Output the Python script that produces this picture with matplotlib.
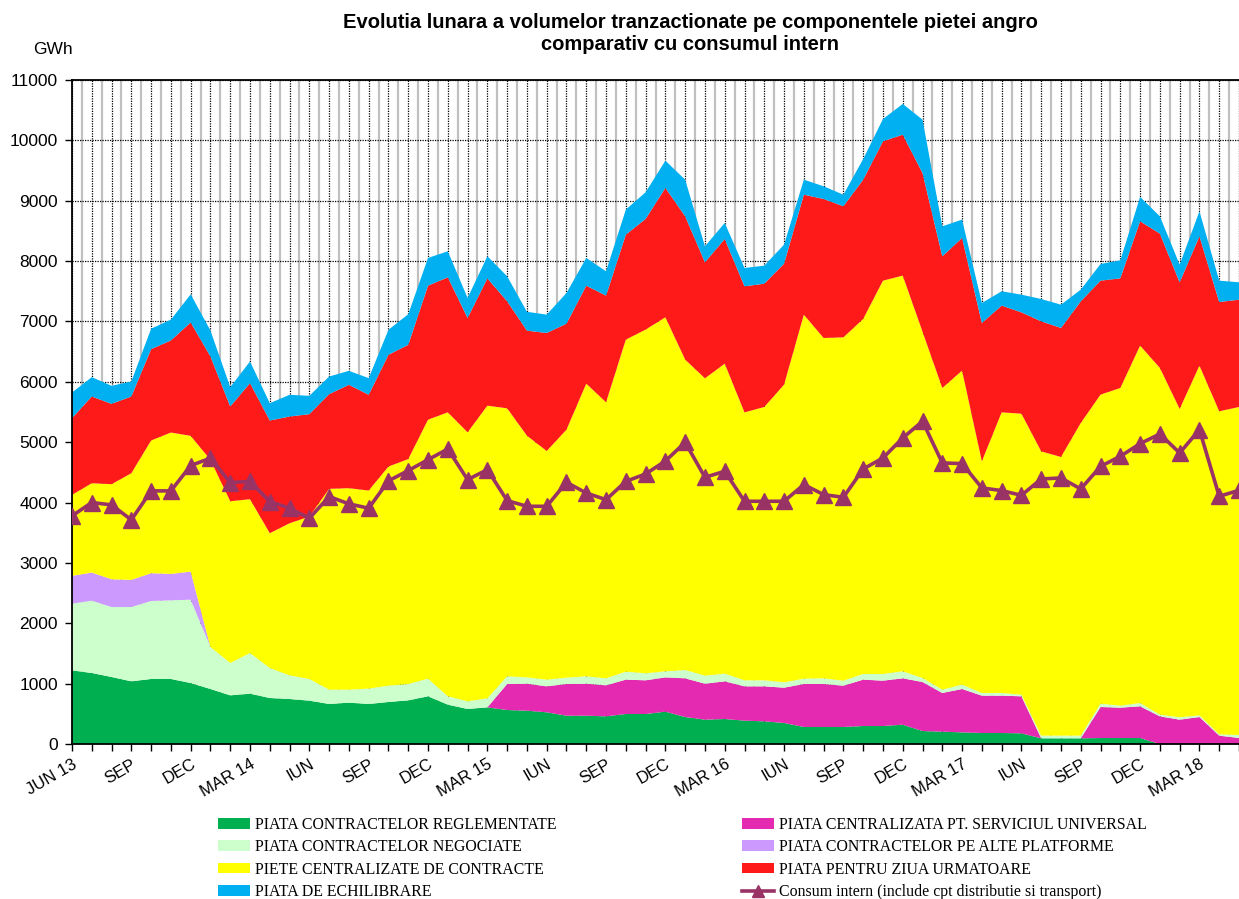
import numpy as np
import matplotlib.pyplot as plt
from matplotlib.patches import Patch
from matplotlib.lines import Line2D

# monthly traded volumes per market component, GWh, JUN 2013 .. MAY 2018
reglementate = [1220, 1176, 1110, 1038, 1077, 1077, 1010, 911, 806, 834,
                762, 745, 718, 663, 685, 663, 696, 723, 790, 652,
                580, 607, 563, 552, 525, 469, 469, 458, 497, 497,
                536, 447, 403, 414, 387, 375, 348, 282, 282, 282,
                298, 298, 320, 215, 204, 193, 182, 182, 177, 94,
                94, 94, 99, 99, 99, 0, 0, 0, 0, 0]
serviciu_universal = [0, 0, 0, 0, 0, 0, 0, 0, 0, 0,
                      0, 0, 0, 0, 0, 0, 0, 0, 0, 0,
                      0, 0, 431, 447, 430, 525, 530, 514, 569, 558,
                      568, 641, 596, 624, 568, 580, 585, 712, 712, 684,
                      768, 751, 768, 812, 641, 718, 619, 619, 613, 0,
                      0, 0, 514, 503, 525, 458, 403, 447, 138, 100]
negociate = [1105, 1198, 1159, 1231, 1292, 1303, 1381, 696, 536, 673,
             497, 392, 359, 237, 215, 254, 270, 271, 292, 138,
             127, 149, 127, 105, 111, 105, 122, 116, 132, 116,
             100, 138, 133, 127, 100, 100, 89, 88, 94, 83,
             94, 111, 116, 66, 55, 72, 44, 44, 27, 44,
             44, 44, 55, 33, 55, 28, 39, 28, 22, 49]
alte_platforme = [460, 466, 460, 449, 460, 438, 465, 0, 0, 0] + [0] * 50
centralizate = [1342, 1480, 1575, 1768, 2199, 2342, 2249, 3100, 2680, 2548,
                2233, 2520, 2691, 3327, 3338, 3282, 3631, 3726, 4291, 4704,
                4456, 4849, 4440, 4004, 3788, 4109, 4849, 4573, 5501, 5694,
                5865, 5142, 4926, 5136, 4439, 4528, 4931, 6030, 5638, 5688,
                5881, 6516, 6555, 5737, 4998, 5202, 3838, 4649, 4655, 4710,
                4617, 5180, 5120, 5263, 5921, 5744, 5108, 5793, 5352, 5434]
pzu = [1271, 1437, 1331, 1271, 1513, 1525, 1878, 1713, 1569, 1923,
       1867, 1768, 1696, 1569, 1712, 1586, 1851, 1893, 2220, 2237,
       1894, 2109, 1773, 1740, 1955, 1755, 1623, 1767, 1739, 1833,
       2143, 2374, 1922, 2065, 2088, 2043, 2004, 1988, 2303, 2171,
       2308, 2308, 2335, 2629, 2181, 2198, 2292, 1768, 1679, 2154,
       2137, 2015, 1888, 1816, 2059, 2225, 2098, 2143, 1810, 1778]
echilibrare = [425, 320, 299, 249, 339, 345, 467, 430, 321, 359,
               287, 360, 304, 292, 232, 276, 414, 507, 459, 432,
               333, 366, 414, 312, 304, 509, 459, 403, 415, 442,
               452, 607, 265, 266, 304, 298, 316, 249, 210, 192,
               342, 370, 509, 884, 497, 304, 331, 238, 293, 370,
               386, 194, 276, 299, 403, 287, 293, 414, 354, 287]
consum = [3779, 4000, 3961, 3713, 4193, 4193, 4613, 4735, 4331, 4350,
          4017, 3906, 3740, 4099, 3978, 3906, 4359, 4530, 4710, 4887,
          4379, 4545, 4032, 3938, 3938, 4335, 4158, 4047, 4351, 4473,
          4688, 4997, 4418, 4518, 4021, 4021, 4021, 4297, 4131, 4087,
          4556, 4738, 5070, 5346, 4656, 4645, 4242, 4198, 4120, 4391,
          4407, 4225, 4600, 4766, 4976, 5136, 4821, 5208, 4103, 4203]

tick_labels = ["JUN 13", "SEP", "DEC", "MAR 14", "IUN", "SEP", "DEC",
               "MAR 15", "IUN", "SEP", "DEC", "MAR 16", "IUN", "SEP", "DEC",
               "MAR 17", "IUN", "SEP", "DEC", "MAR 18"]

names = ["PIATA CONTRACTELOR REGLEMENTATE",
         "PIATA CENTRALIZATA PT. SERVICIUL UNIVERSAL",
         "PIATA CONTRACTELOR NEGOCIATE",
         "PIATA CONTRACTELOR PE ALTE PLATFORME",
         "PIETE CENTRALIZATE DE CONTRACTE",
         "PIATA PENTRU ZIUA URMATOARE",
         "PIATA DE ECHILIBRARE"]
colors = ["#00B050", "#E32AB0", "#CCFFCC", "#CC99FF", "#FFFF00",
          "#FF1A1A", "#00B0F0"]
consum_name = "Consum intern (include cpt distributie si transport)"
consum_color = "#993366"

x = np.arange(len(consum))

fig = plt.figure(figsize=(12.39, 8.99), dpi=100)
ax = fig.add_axes([72 / 1239, 1 - 744 / 899, 1 - 72 / 1239, 664 / 899])

ax.stackplot(x, reglementate, serviciu_universal, negociate, alte_platforme,
             centralizate, pzu, echilibrare, colors=colors, linewidth=0,
             zorder=2)
ax.plot(x, consum, color=consum_color, lw=2.6, marker="^", ms=11,
        zorder=3)

ax.set_xlim(0, 58.54)
ax.set_ylim(0, 11000)
ax.set_yticks(np.arange(0, 11001, 1000))
ax.set_xticks(x)
ax.set_xticks(x[:-1] + 0.5, minor=True)
labels = [""] * len(x)
for i, lab in enumerate(tick_labels):
    labels[3 * i] = lab
ax.set_xticklabels(labels, rotation=30, ha="right", va="top",
                   rotation_mode="anchor", fontsize=12,
                   family="Liberation Sans")
ax.tick_params(axis="x", which="major", length=5, width=1, direction="out",
               pad=4)
ax.tick_params(axis="x", which="minor", length=0)
ax.tick_params(axis="y", length=5, width=1, direction="out", pad=5,
               labelsize=12.5)
for t in ax.get_yticklabels():
    t.set_family("Liberation Sans")

ax.set_axisbelow(True)
ax.grid(axis="y", which="major", color="black", ls=(0, (1, 1)), lw=0.9)
ax.grid(axis="x", which="major", color="black", ls=(0, (1, 1)), lw=0.9)
ax.grid(axis="x", which="minor", color="#C0C0C0", ls="-", lw=1.6)
ax.spines["right"].set_visible(False)
for s in ("left", "bottom", "top"):
    ax.spines[s].set_linewidth(1.3)

fig.text(690 / 1239, 1 - 22 / 899,
         "Evolutia lunara a volumelor tranzactionate pe componentele pietei angro",
         ha="center", va="center", fontsize=14.5, fontweight="bold",
         family="Liberation Sans")
fig.text(690 / 1239, 1 - 45 / 899, "comparativ cu consumul intern",
         ha="center", va="center", fontsize=14.5, fontweight="bold",
         family="Liberation Sans")
fig.text(52.5 / 1239, 1 - 49 / 899, "GWh", ha="center", va="center",
         fontsize=12.5, family="Liberation Sans")

patches = [Patch(facecolor=c, edgecolor="none", label=n)
           for c, n in zip(colors, names)]
consum_handle = Line2D([], [], color=consum_color, lw=2.6, marker="^",
                       ms=8, label=consum_name)
order = [0, 2, 4, 6, 1, 3, 5]
handles = [patches[i] for i in order] + [consum_handle]
fig.legend(handles=handles, loc="upper left",
           bbox_to_anchor=(218 / 1239, 1 - 817 / 899), ncol=2,
           frameon=False, borderpad=0, borderaxespad=0,
           handlelength=2.05, handleheight=0.65, handletextpad=0.3,
           labelspacing=0.4, columnspacing=11.7,
           prop={"family": "Liberation Serif", "size": 11.4})

fig.savefig("out.png", dpi=100)
